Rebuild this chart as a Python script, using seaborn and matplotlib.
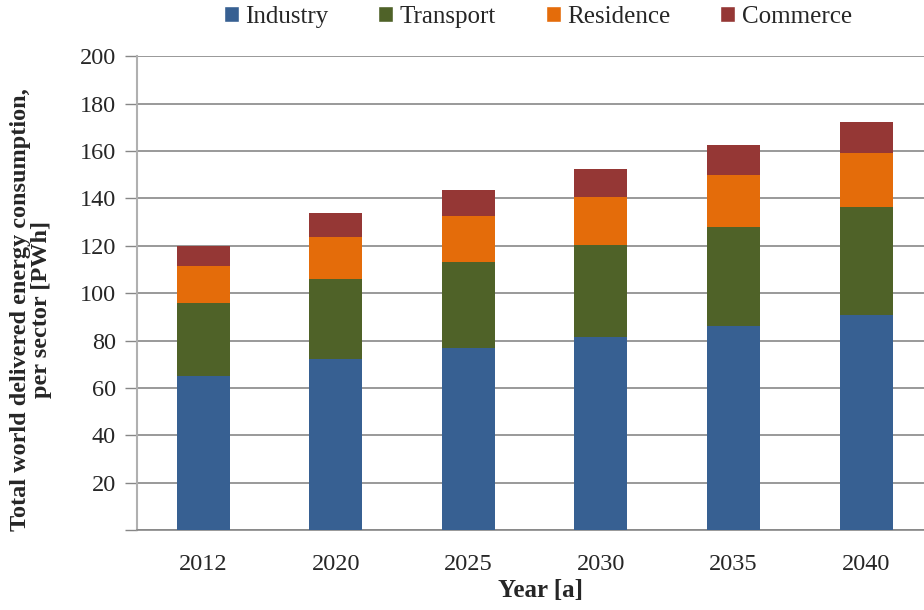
import numpy as np
import pandas as pd
import seaborn as sns
import matplotlib.pyplot as plt
from matplotlib.patches import Patch

# Giá trị (PWh)
years = ['2012', '2020', '2025', '2030', '2035', '2040']
industry = [65.1, 72.0, 76.8, 81.6, 86.2, 90.6]
transport = [30.8, 33.9, 36.2, 38.5, 41.6, 45.6]
residence = [15.5, 17.9, 19.4, 20.4, 22.0, 23.0]
commerce = [8.6, 10.0, 10.9, 11.7, 12.6, 13.0]

sectors = ['Industry', 'Transport', 'Residence', 'Commerce']
colors = ['#376092', '#4F6228', '#E46C0A', '#953735']

df = pd.DataFrame({'Year': years, 'Industry': industry, 'Transport': transport,
                   'Residence': residence, 'Commerce': commerce})

sns.set_style('white')
plt.rcParams['font.family'] = ['Liberation Serif', 'DejaVu Serif']

fig = plt.figure(figsize=(9.24, 6.1), dpi=100)
ax = fig.add_axes([0.148, 0.131, 0.861, 0.777])

# Vẽ cột chồng: vẽ tổng tích lũy từ lớn đến nhỏ
cum = df[sectors].cumsum(axis=1)
for s, c in zip(reversed(sectors), reversed(colors)):
    sns.barplot(x=df['Year'], y=cum[s], color=c, width=0.4, linewidth=0,
                saturation=1, ax=ax, zorder=3)

ax.set_ylim(0, 200)
ax.set_xlim(-0.5, 5.5)
ax.set_yticks(range(0, 201, 20))
ax.set_yticklabels([''] + [str(v) for v in range(20, 201, 20)], fontsize=17.5)
ax.set_xticks(range(len(years)))
ax.set_xticklabels(years, fontsize=17.5)
ax.set_xticks(np.arange(-0.5, 5.6, 1), minor=True)
ax.tick_params(axis='x', which='major', length=0, pad=17)
ax.tick_params(axis='x', which='minor', length=8, color='#878787', width=1, direction='out')
ax.tick_params(axis='y', length=9, color='#878787', width=1, direction='out', left=True, pad=6)
ax.yaxis.grid(True, color='#878787', linewidth=1.2, zorder=0)
ax.set_axisbelow(True)

for side in ['top', 'right']:
    ax.spines[side].set_visible(False)
ax.spines['left'].set_color('#b0b0b0')
ax.spines['left'].set_linewidth(1.5)
ax.spines['bottom'].set_color('#878787')
ax.spines['bottom'].set_linewidth(1.2)

ax.set_xlabel('Year [a]', fontsize=18, fontweight='bold')
ax.xaxis.set_label_coords(0.507, -0.103)
ax.set_ylabel('Total world delivered energy consumption,\nper sector [PWh]',
              fontsize=17.5, fontweight='bold', linespacing=1.0)
ax.yaxis.set_label_coords(-0.106, 0.466)

handles = [Patch(facecolor=c, label=s) for s, c in zip(sectors, colors)]
fig.legend(handles=handles, loc='center', bbox_to_anchor=(0.582, 0.972), ncol=4,
           frameon=False, fontsize=18, handlelength=0.6, handleheight=0.6,
           handletextpad=0.25, columnspacing=2.0)

plt.savefig('out.png', dpi=100)
